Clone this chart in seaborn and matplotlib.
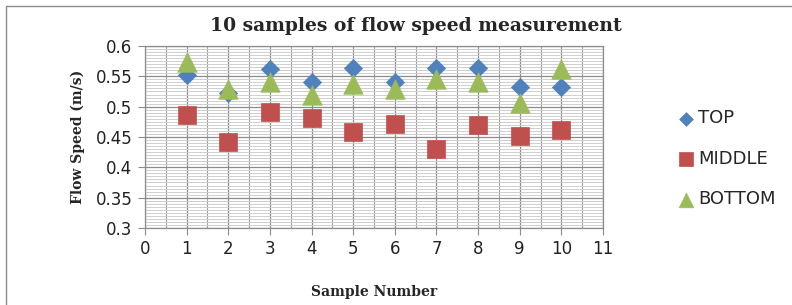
import matplotlib
matplotlib.use("Agg")
import matplotlib.pyplot as plt
import seaborn as sns
import pandas as pd
import numpy as np
from matplotlib.ticker import MultipleLocator, FixedLocator, FixedFormatter
from matplotlib.patches import Rectangle

samples = [1, 2, 3, 4, 5, 6, 7, 8, 9, 10]
top = [0.552, 0.522, 0.562, 0.540, 0.564, 0.541, 0.563, 0.563, 0.532, 0.532]
middle = [0.486, 0.441, 0.491, 0.481, 0.459, 0.472, 0.430, 0.470, 0.452, 0.461]
bottom = [0.573, 0.529, 0.540, 0.519, 0.537, 0.529, 0.545, 0.541, 0.506, 0.562]
series_names = ["TOP", "MIDDLE", "BOTTOM"]
x_ticks = list(range(0, 12))
y_ticks = [0.3, 0.35, 0.4, 0.45, 0.5, 0.55, 0.6]
y_tick_labels = ["0.3", "0.35", "0.4", "0.45", "0.5", "0.55", "0.6"]

colors = {"TOP": "#4F81BD", "MIDDLE": "#C0504D", "BOTTOM": "#9BBB59"}
markers = {"TOP": "D", "MIDDLE": "s", "BOTTOM": "^"}
sizes = {"TOP": 9.3**2, "MIDDLE": 13.0**2, "BOTTOM": 14.0**2}

df = pd.DataFrame({
    "Sample": samples * 3,
    "Speed": top + middle + bottom,
    "Position": sum([[n] * len(samples) for n in series_names], []),
})

sns.set_style("white")
fig = plt.figure(figsize=(7.92, 3.05), dpi=100)
ax = fig.add_axes([145 / 792, 1 - 228 / 305, (603 - 145) / 792, (228 - 46) / 305])

for name in series_names:
    sub = df[df["Position"] == name]
    sns.scatterplot(data=sub, x="Sample", y="Speed", ax=ax, color=colors[name],
                    marker=markers[name], s=sizes[name], edgecolor=colors[name],
                    linewidth=0.5, label=name, zorder=3)

ax.set_xlim(0, 11)
ax.set_ylim(0.3, 0.6)
ax.xaxis.set_major_locator(FixedLocator(x_ticks))
ax.xaxis.set_minor_locator(MultipleLocator(0.5))
ax.yaxis.set_major_locator(FixedLocator(y_ticks))
ax.yaxis.set_major_formatter(FixedFormatter(y_tick_labels))
ax.yaxis.set_minor_locator(MultipleLocator(0.005))

ax.grid(which="major", color="#8c8c8c", linewidth=0.9, zorder=0)
ax.grid(which="minor", axis="y", color="#cfcfcf", linewidth=0.7, zorder=0)
ax.grid(which="minor", axis="x", color="#a0a0a0", linewidth=0.8, zorder=0)
ax.set_axisbelow(True)
for s in ax.spines.values():
    s.set_color("#8c8c8c")
    s.set_linewidth(0.9)

ax.tick_params(axis="both", which="major", labelsize=12, length=5, color="#8c8c8c",
               direction="out", left=True, bottom=True, pad=4, labelcolor="#222222")
ax.tick_params(axis="both", which="minor", length=0)

ax.set_xlabel("Sample Number", fontfamily="DejaVu Serif", fontweight="bold", fontsize=10, labelpad=19)
ax.set_ylabel("Flow Speed (m/s)", fontfamily="DejaVu Serif", fontweight="bold", fontsize=10, labelpad=8)
fig.text(0.525, 1 - 26 / 305, "10 samples of flow speed measurement", ha="center", va="center",
         fontfamily="DejaVu Serif", fontweight="bold", fontsize=13.5)

leg = ax.legend(loc="center left", bbox_to_anchor=(1.125, 0.38), frameon=False, fontsize=13,
                labelspacing=1.25, handletextpad=0.1, handlelength=1.1, markerscale=0.75)

fig.patches.append(Rectangle((6 / 792, -0.01), 1.0, 1 - 6 / 305 + 0.01, transform=fig.transFigure,
                             fill=False, edgecolor="#8c8c8c", linewidth=1.0))

fig.savefig("out.png", dpi=100)
